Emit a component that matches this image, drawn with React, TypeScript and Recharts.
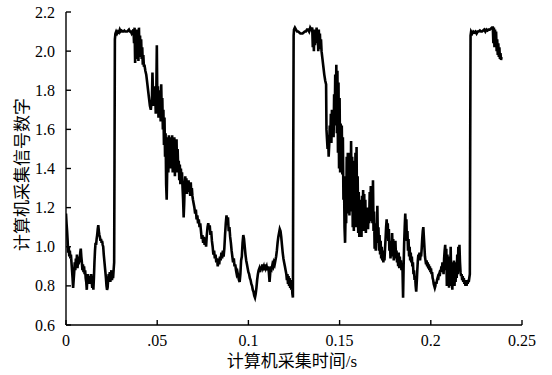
import React from 'react';
import { LineChart, Line, XAxis, YAxis, Label } from 'recharts';

// ---- tick values / labels ----
const xTickValues = [0, 0.05, 0.1, 0.15, 0.2, 0.25];
const xTickLabels = ['0', '.05', '0.1', '0.15', '0.2', '0.25'];
const yTickValues = [0.6, 0.8, 1.0, 1.2, 1.4, 1.6, 1.8, 2.0, 2.2];
const yTickLabels = ['0.6', '0.8', '1.0', '1.2', '1.4', '1.6', '1.8', '2.0', '2.2'];
const xTitle = '计算机采集时间/s';
const yTitle = '计算机采集信号数字';

// ---- signal samples: [time (s), signal] ----
const lowStart: [number, number][] = [
  [0.0000, 1.17], [0.0003, 1.12], [0.0006, 1.08], [0.0009, 1.03], [0.0012, 0.97], [0.0015, 1.00],
  [0.0018, 0.95], [0.0021, 0.98], [0.0024, 0.94], [0.0027, 0.96], [0.0030, 0.92], [0.0033, 0.88],
  [0.0036, 0.84], [0.0039, 0.79], [0.0042, 0.83], [0.0045, 0.87], [0.0048, 0.92], [0.0051, 0.88],
  [0.0054, 0.94], [0.0057, 0.90], [0.0060, 0.96], [0.0063, 0.89], [0.0066, 0.93], [0.0069, 0.91],
  [0.0072, 0.95], [0.0075, 0.92], [0.0078, 0.97], [0.0081, 0.99], [0.0084, 0.95], [0.0087, 0.92],
  [0.0090, 0.88], [0.0093, 0.91], [0.0096, 0.87], [0.0099, 0.90], [0.0102, 0.86], [0.0105, 0.88],
  [0.0108, 0.84], [0.0111, 0.82], [0.0114, 0.78], [0.0117, 0.84], [0.0120, 0.86], [0.0123, 0.82],
  [0.0126, 0.85], [0.0129, 0.81], [0.0132, 0.85], [0.0135, 0.83], [0.0138, 0.86], [0.0141, 0.82],
  [0.0144, 0.79], [0.0147, 0.84], [0.0150, 0.78], [0.0153, 0.84], [0.0156, 0.92], [0.0159, 0.98],
  [0.0162, 1.02], [0.0165, 1.01], [0.0168, 1.04], [0.0171, 1.06], [0.0174, 1.09], [0.0177, 1.11],
  [0.0180, 1.08], [0.0183, 1.06], [0.0186, 1.05], [0.0189, 1.03], [0.0192, 1.04], [0.0195, 1.02],
  [0.0198, 1.03], [0.0201, 1.01], [0.0204, 1.00], [0.0207, 0.96], [0.0210, 0.93], [0.0213, 0.90],
  [0.0216, 0.87], [0.0219, 0.84], [0.0222, 0.80], [0.0225, 0.78], [0.0228, 0.79], [0.0231, 0.83],
  [0.0234, 0.86], [0.0237, 0.84], [0.0240, 0.87], [0.0243, 0.82], [0.0246, 0.85], [0.0249, 0.88],
  [0.0252, 0.83], [0.0255, 0.86], [0.0258, 0.84], [0.0261, 0.88], [0.0264, 0.92], [0.0266, 1.45],
  [0.0268, 2.06], [0.0271, 2.09],
];

const cycle1: [number, number][] = [
  [0.0275, 2.10], [0.0280, 2.09], [0.0285, 2.10], [0.0290, 2.095], [0.0295, 2.11], [0.0300, 2.10],
  [0.0305, 2.105], [0.0310, 2.10], [0.0315, 2.10], [0.0320, 2.105], [0.0325, 2.10], [0.0330, 2.10],
  [0.0335, 2.10], [0.0340, 2.105], [0.0345, 2.11], [0.0350, 2.10], [0.0355, 2.10], [0.0360, 2.09],
  [0.0365, 2.10], [0.0370, 2.11], [0.0373, 2.04], [0.0376, 2.12], [0.0379, 1.94], [0.0382, 2.10],
  [0.0385, 1.96], [0.0388, 2.11], [0.0391, 1.99], [0.0394, 2.09], [0.0397, 1.95], [0.0400, 2.12],
  [0.0403, 1.98], [0.0406, 2.08], [0.0409, 1.97], [0.0412, 2.06], [0.0415, 1.96], [0.0418, 2.02],
  [0.0421, 1.93], [0.0424, 1.98], [0.0427, 1.92], [0.0430, 1.93], [0.0435, 1.90], [0.0440, 1.88],
  [0.0445, 1.84], [0.0450, 1.80], [0.0455, 1.76], [0.0460, 1.72], [0.0465, 1.70], [0.0468, 1.73],
  [0.0471, 1.75], [0.0474, 1.89], [0.0477, 1.78], [0.0480, 1.72], [0.0483, 1.82], [0.0486, 1.75],
  [0.0489, 1.80], [0.0492, 1.68], [0.0495, 1.78], [0.0498, 2.03], [0.0501, 1.70], [0.0504, 1.82],
  [0.0507, 1.66], [0.0510, 1.80], [0.0513, 1.70], [0.0516, 1.78], [0.0519, 1.64], [0.0522, 1.83],
  [0.0525, 1.68], [0.0528, 1.76], [0.0531, 1.60], [0.0534, 1.70], [0.0537, 1.52], [0.0540, 1.66],
  [0.0543, 1.46], [0.0546, 1.58], [0.0549, 1.32], [0.0552, 1.24], [0.0555, 1.40], [0.0558, 1.56],
  [0.0561, 1.38], [0.0564, 1.57], [0.0567, 1.42], [0.0570, 1.56], [0.0573, 1.40], [0.0576, 1.55],
  [0.0579, 1.44], [0.0582, 1.57], [0.0585, 1.38], [0.0588, 1.54], [0.0591, 1.42], [0.0594, 1.56],
  [0.0597, 1.36], [0.0600, 1.52], [0.0603, 1.40], [0.0606, 1.55], [0.0609, 1.38], [0.0612, 1.50],
  [0.0615, 1.40], [0.0618, 1.44], [0.0621, 1.34], [0.0624, 1.42], [0.0627, 1.32], [0.0630, 1.40],
  [0.0633, 1.33], [0.0636, 1.38], [0.0639, 1.30], [0.0642, 1.24], [0.0645, 1.15], [0.0648, 1.22],
  [0.0651, 1.32], [0.0654, 1.36], [0.0657, 1.28], [0.0660, 1.35], [0.0663, 1.27], [0.0666, 1.33],
  [0.0669, 1.29], [0.0672, 1.34], [0.0675, 1.28], [0.0678, 1.31], [0.0681, 1.26], [0.0684, 1.33],
  [0.0687, 1.27], [0.0690, 1.30], [0.0693, 1.26], [0.0696, 1.24], [0.0700, 1.22], [0.0704, 1.20],
  [0.0708, 1.17], [0.0712, 1.19], [0.0716, 1.14], [0.0720, 1.16], [0.0724, 1.12], [0.0728, 1.14],
  [0.0732, 1.10], [0.0736, 1.12], [0.0740, 1.08], [0.0744, 1.04], [0.0748, 1.06], [0.0752, 1.02],
  [0.0756, 1.05], [0.0760, 1.01], [0.0764, 1.04], [0.0768, 1.00], [0.0772, 1.06], [0.0776, 1.10],
  [0.0780, 1.12], [0.0784, 1.09], [0.0788, 1.11], [0.0792, 1.06], [0.0796, 1.08], [0.0800, 1.03],
  [0.0804, 1.00], [0.0808, 0.96], [0.0812, 0.98], [0.0816, 0.94], [0.0820, 0.96], [0.0824, 0.92],
  [0.0828, 0.94], [0.0832, 0.90], [0.0836, 0.93], [0.0840, 0.91], [0.0844, 0.95], [0.0848, 0.93],
  [0.0852, 0.97], [0.0856, 0.94], [0.0860, 0.98], [0.0864, 0.95], [0.0868, 0.99], [0.0872, 1.06],
  [0.0876, 1.12], [0.0880, 1.16], [0.0884, 1.12], [0.0888, 1.15], [0.0892, 1.08], [0.0896, 1.10],
  [0.0900, 1.05], [0.0904, 1.02], [0.0908, 0.98], [0.0912, 0.95], [0.0916, 0.92], [0.0920, 0.94],
  [0.0924, 0.90], [0.0928, 0.91], [0.0932, 0.88], [0.0936, 0.86], [0.0940, 0.87], [0.0944, 0.85],
  [0.0948, 0.83], [0.0952, 0.82], [0.0956, 0.86], [0.0960, 0.93], [0.0964, 0.95], [0.0968, 1.02],
  [0.0972, 1.06], [0.0976, 1.04], [0.0980, 1.00], [0.0984, 0.96], [0.0988, 0.93], [0.0992, 0.91],
  [0.0996, 0.89], [0.1000, 0.87], [0.1004, 0.86], [0.1008, 0.84], [0.1012, 0.83], [0.1016, 0.81],
  [0.1020, 0.80], [0.1024, 0.78], [0.1028, 0.77], [0.1032, 0.75], [0.1036, 0.74], [0.1040, 0.76],
  [0.1044, 0.79], [0.1048, 0.83], [0.1052, 0.86], [0.1056, 0.88], [0.1060, 0.89], [0.1064, 0.87],
  [0.1068, 0.90], [0.1072, 0.88], [0.1076, 0.91], [0.1080, 0.89], [0.1084, 0.90], [0.1088, 0.88],
  [0.1092, 0.91], [0.1096, 0.89], [0.1100, 0.90], [0.1104, 0.88], [0.1108, 0.90], [0.1112, 0.87],
  [0.1116, 0.82], [0.1120, 0.87], [0.1124, 0.90], [0.1128, 0.89], [0.1132, 0.91], [0.1136, 0.90],
  [0.1140, 0.92], [0.1144, 0.91], [0.1148, 0.93], [0.1152, 0.95], [0.1156, 0.98], [0.1160, 1.02],
  [0.1164, 1.05], [0.1168, 1.07], [0.1172, 1.09], [0.1176, 1.08], [0.1180, 1.05], [0.1184, 1.01],
  [0.1188, 0.97], [0.1192, 0.94], [0.1196, 0.92], [0.1200, 0.90], [0.1204, 0.88], [0.1208, 0.86],
  [0.1211, 0.83], [0.1214, 0.86], [0.1217, 0.81], [0.1220, 0.85], [0.1223, 0.80], [0.1226, 0.84],
  [0.1229, 0.79], [0.1232, 0.83], [0.1235, 0.78], [0.1238, 0.82], [0.1241, 0.76], [0.1244, 0.74],
  [0.1246, 1.50], [0.1248, 2.08],
];

const cycle2: [number, number][] = [
  [0.1250, 2.11], [0.1255, 2.12], [0.1261, 2.11], [0.1267, 2.10], [0.1273, 2.10], [0.1279, 2.095],
  [0.1285, 2.09], [0.1291, 2.09], [0.1297, 2.09], [0.1303, 2.095], [0.1309, 2.10], [0.1315, 2.10],
  [0.1321, 2.11], [0.1327, 2.11], [0.1333, 2.10], [0.1339, 2.12], [0.1345, 2.11], [0.1350, 2.12],
  [0.1353, 2.02], [0.1356, 2.11], [0.1359, 2.00], [0.1362, 2.10], [0.1365, 2.03], [0.1368, 2.11],
  [0.1371, 2.07], [0.1374, 2.12], [0.1377, 2.04], [0.1380, 2.10], [0.1383, 2.00], [0.1386, 2.11],
  [0.1389, 2.02], [0.1392, 2.09], [0.1395, 2.01], [0.1398, 2.06], [0.1401, 2.00], [0.1406, 1.96],
  [0.1411, 1.92], [0.1416, 1.88], [0.1421, 1.85], [0.1426, 1.83], [0.1428, 1.60], [0.1431, 1.55],
  [0.1434, 1.50], [0.1437, 1.57], [0.1440, 1.46], [0.1443, 1.52], [0.1446, 1.62], [0.1449, 1.54],
  [0.1452, 1.68], [0.1455, 1.53], [0.1458, 1.70], [0.1461, 1.58], [0.1464, 1.66], [0.1467, 1.56],
  [0.1470, 1.78], [0.1473, 1.62], [0.1476, 1.88], [0.1479, 1.66], [0.1482, 1.93], [0.1485, 1.58],
  [0.1488, 1.90], [0.1491, 1.48], [0.1494, 1.84], [0.1497, 1.40], [0.1500, 1.76], [0.1503, 1.38],
  [0.1506, 1.63], [0.1509, 1.40], [0.1512, 1.62], [0.1515, 1.37], [0.1518, 1.56], [0.1521, 1.24],
  [0.1524, 1.36], [0.1527, 1.10], [0.1530, 1.02], [0.1533, 1.18], [0.1536, 1.12], [0.1539, 1.46],
  [0.1542, 1.20], [0.1545, 1.48], [0.1548, 1.17], [0.1551, 1.44], [0.1554, 1.16], [0.1557, 1.48],
  [0.1560, 1.22], [0.1563, 1.54], [0.1566, 1.18], [0.1569, 1.46], [0.1572, 1.10], [0.1575, 1.42],
  [0.1578, 1.08], [0.1581, 1.44], [0.1584, 1.14], [0.1587, 1.48], [0.1590, 1.10], [0.1593, 1.51],
  [0.1596, 1.12], [0.1599, 1.36], [0.1602, 1.07], [0.1605, 1.28], [0.1608, 1.05], [0.1611, 1.24],
  [0.1614, 1.06], [0.1617, 1.22], [0.1620, 1.05], [0.1623, 1.26], [0.1626, 1.08], [0.1629, 1.29],
  [0.1632, 1.10], [0.1635, 1.27], [0.1638, 1.08], [0.1641, 1.24], [0.1644, 1.07], [0.1647, 1.20],
  [0.1650, 1.10], [0.1653, 1.18], [0.1656, 1.09], [0.1659, 1.20], [0.1662, 1.12], [0.1665, 1.28],
  [0.1668, 1.13], [0.1671, 1.31], [0.1674, 1.14], [0.1677, 1.30], [0.1680, 1.12], [0.1683, 1.34],
  [0.1686, 1.08], [0.1689, 1.18], [0.1692, 0.99], [0.1695, 1.12], [0.1698, 0.98], [0.1701, 1.10],
  [0.1704, 1.04], [0.1707, 1.21], [0.1710, 1.02], [0.1713, 1.10], [0.1716, 0.98], [0.1719, 1.06],
  [0.1722, 0.96], [0.1725, 1.03], [0.1728, 0.94], [0.1731, 1.00], [0.1734, 0.93], [0.1737, 0.98],
  [0.1740, 0.92], [0.1743, 0.97], [0.1746, 0.93], [0.1749, 0.99], [0.1752, 1.04], [0.1755, 1.10],
  [0.1758, 1.14], [0.1761, 1.08], [0.1764, 1.12], [0.1767, 1.03], [0.1770, 1.09], [0.1773, 0.98],
  [0.1776, 1.03], [0.1779, 0.94], [0.1782, 1.00], [0.1785, 0.95], [0.1788, 1.07], [0.1791, 0.97],
  [0.1794, 1.04], [0.1797, 0.93], [0.1800, 0.99], [0.1803, 0.94], [0.1806, 1.03], [0.1809, 0.95],
  [0.1812, 0.98], [0.1815, 0.92], [0.1818, 0.96], [0.1821, 0.90], [0.1824, 0.97], [0.1827, 0.89],
  [0.1830, 0.95], [0.1833, 0.90], [0.1836, 0.93], [0.1839, 0.88], [0.1842, 0.91], [0.1845, 0.88],
  [0.1848, 0.74], [0.1851, 0.90], [0.1854, 1.02], [0.1857, 1.10], [0.1860, 1.17], [0.1863, 1.09],
  [0.1866, 1.14], [0.1869, 1.03], [0.1872, 1.08], [0.1875, 0.98], [0.1878, 1.04], [0.1881, 0.95],
  [0.1884, 1.00], [0.1887, 0.93], [0.1890, 0.97], [0.1893, 0.92], [0.1896, 0.95], [0.1899, 0.90],
  [0.1902, 0.92], [0.1905, 0.86], [0.1908, 0.88], [0.1911, 0.83], [0.1914, 0.85], [0.1917, 0.80],
  [0.1920, 0.77], [0.1923, 0.82], [0.1926, 0.88], [0.1929, 0.93], [0.1932, 0.96], [0.1935, 0.94],
  [0.1938, 0.97], [0.1941, 0.93], [0.1944, 0.96], [0.1947, 0.95], [0.1950, 0.99], [0.1953, 1.04],
  [0.1956, 1.08], [0.1959, 1.10], [0.1962, 1.05], [0.1965, 1.00], [0.1968, 0.95], [0.1971, 0.93],
  [0.1974, 0.91], [0.1977, 0.93], [0.1980, 0.90], [0.1983, 0.92], [0.1986, 0.89], [0.1989, 0.91],
  [0.1992, 0.88], [0.1995, 0.90], [0.1998, 0.87], [0.2001, 0.89], [0.2004, 0.86], [0.2007, 0.87],
  [0.2010, 0.84], [0.2013, 0.83], [0.2016, 0.81], [0.2019, 0.80], [0.2022, 0.79], [0.2025, 0.80],
  [0.2028, 0.82], [0.2031, 0.81], [0.2034, 0.83], [0.2037, 0.84], [0.2040, 0.83], [0.2043, 0.85],
  [0.2046, 0.86], [0.2049, 0.85], [0.2052, 0.88], [0.2055, 0.87], [0.2058, 0.90], [0.2061, 0.89],
  [0.2064, 0.92], [0.2067, 0.90], [0.2070, 0.86], [0.2073, 0.94], [0.2076, 0.98], [0.2079, 1.01],
  [0.2082, 0.88], [0.2085, 0.99], [0.2088, 0.80], [0.2091, 0.96], [0.2094, 0.82], [0.2097, 0.93],
  [0.2100, 0.79], [0.2103, 0.95], [0.2106, 0.83], [0.2109, 1.00], [0.2112, 0.80], [0.2115, 0.92],
  [0.2118, 0.78], [0.2121, 0.90], [0.2124, 0.82], [0.2127, 0.93], [0.2130, 0.80], [0.2133, 0.88],
  [0.2136, 0.82], [0.2139, 0.92], [0.2142, 0.84], [0.2145, 0.96], [0.2148, 0.86], [0.2151, 1.00],
  [0.2154, 0.88], [0.2157, 1.01], [0.2160, 0.92], [0.2163, 0.87], [0.2166, 0.85], [0.2169, 0.86],
  [0.2172, 0.83], [0.2175, 0.85], [0.2178, 0.82], [0.2181, 0.84], [0.2184, 0.81], [0.2187, 0.83],
  [0.2190, 0.80], [0.2193, 0.82], [0.2196, 0.80], [0.2199, 0.83], [0.2202, 0.81], [0.2205, 0.83],
  [0.2208, 0.82], [0.2211, 0.84], [0.2214, 0.86], [0.2216, 1.50], [0.2218, 2.08],
];

const cycle3: [number, number][] = [
  [0.2221, 2.10], [0.2227, 2.09], [0.2233, 2.10], [0.2239, 2.095], [0.2245, 2.10], [0.2251, 2.09],
  [0.2257, 2.10], [0.2263, 2.10], [0.2269, 2.105], [0.2275, 2.10], [0.2281, 2.10], [0.2287, 2.105],
  [0.2293, 2.11], [0.2299, 2.10], [0.2305, 2.11], [0.2311, 2.105], [0.2317, 2.11], [0.2323, 2.11],
  [0.2329, 2.115], [0.2335, 2.12], [0.2340, 2.12], [0.2343, 2.04], [0.2346, 2.12], [0.2349, 2.02],
  [0.2352, 2.11], [0.2355, 2.05], [0.2358, 2.10], [0.2361, 2.00], [0.2364, 2.06], [0.2367, 1.98],
  [0.2370, 2.04], [0.2373, 1.97], [0.2376, 2.02], [0.2379, 1.96], [0.2382, 1.99], [0.2385, 1.955],
  [0.2388, 1.97],
];

const data = [...lowStart, ...cycle1, ...cycle2, ...cycle3].map(([t, v]) => ({ t, v }));

const NUM_FONT = '"Liberation Serif", "Times New Roman", "DejaVu Serif", serif';
const CJK_FONT = '"Liberation Serif", "Noto Sans CJK SC", serif';

const numStyle: React.CSSProperties = { fontFamily: NUM_FONT, fontSize: 16, fill: '#000' };
const titleStyle: React.CSSProperties = { fontFamily: CJK_FONT, fontSize: 17, fill: '#000' };

const XTick = (props: any) => {
  const { x, y, payload } = props;
  const i = xTickValues.findIndex((v) => Math.abs(v - payload.value) < 1e-9);
  return (
    <g>
      <line x1={x} x2={x} y1={y} y2={y - 5} stroke="#000" strokeWidth={1.4} />
      <text x={x} y={y + 21} textAnchor="middle" style={numStyle}>
        {i >= 0 ? xTickLabels[i] : ''}
      </text>
    </g>
  );
};

const YTick = (props: any) => {
  const { x, y, payload } = props;
  const i = yTickValues.findIndex((v) => Math.abs(v - payload.value) < 1e-9);
  return (
    <g>
      <line x1={x} x2={x + 5} y1={y} y2={y} stroke="#000" strokeWidth={1.4} />
      <text x={x - 11} y={y + 5.5} textAnchor="end" style={numStyle}>
        {i >= 0 ? yTickLabels[i] : ''}
      </text>
    </g>
  );
};

export default function App() {
  return (
    <div style={{ position: 'absolute', left: 0, top: 0, width: 552, height: 375, background: '#fff' }}>
      <LineChart width={552} height={375} data={data} margin={{ top: 12, right: 30, bottom: 20, left: 0 }}>
        <XAxis
          dataKey="t"
          type="number"
          domain={[0, 0.25]}
          ticks={xTickValues}
          interval={0}
          tickSize={0}
          tickMargin={0}
          tickLine={false}
          tick={<XTick />}
          height={30}
          axisLine={{ stroke: '#000', strokeWidth: 1.4 }}
          allowDataOverflow
        >
          <Label
            content={(p: any) => {
              const vb = p.viewBox || { x: 66, y: 325, width: 456, height: 30 };
              return (
                <text x={vb.x + vb.width / 2 - 2} y={vb.y + 42} textAnchor="middle" style={titleStyle}>
                  {xTitle}
                </text>
              );
            }}
          />
        </XAxis>
        <YAxis
          type="number"
          domain={[0.6, 2.2]}
          ticks={yTickValues}
          interval={0}
          tickSize={0}
          tickMargin={0}
          tickLine={false}
          tick={<YTick />}
          width={66}
          axisLine={{ stroke: '#000', strokeWidth: 1.4 }}
          allowDataOverflow
        >
          <Label
            content={(p: any) => {
              const vb = p.viewBox || { x: 0, y: 12, width: 66, height: 313 };
              const cx = vb.x + 22;
              const cy = vb.y + vb.height / 2 + 6;
              return (
                <text
                  x={cx}
                  y={cy}
                  transform={`rotate(-90 ${cx} ${cy})`}
                  textAnchor="middle"
                  dominantBaseline="central"
                  style={titleStyle}
                >
                  {yTitle}
                </text>
              );
            }}
          />
        </YAxis>
        <Line
          type="linear"
          dataKey="v"
          stroke="#000"
          strokeWidth={2.6}
          dot={false}
          activeDot={false}
          isAnimationActive={false}
        />
      </LineChart>
    </div>
  );
}
